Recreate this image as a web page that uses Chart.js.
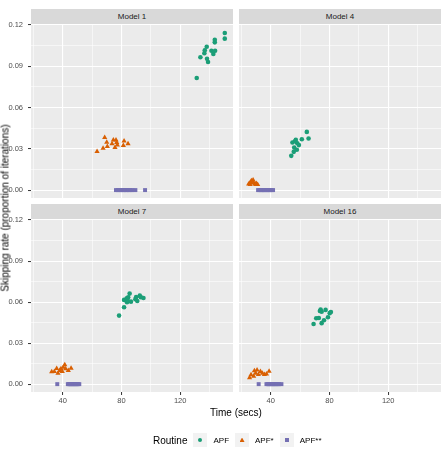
<!DOCTYPE html>
<html>
<head>
<meta charset="utf-8">
<script src="https://cdn.jsdelivr.net/npm/chart.js@4/dist/chart.umd.min.js"></script>
<style>
    html, body { margin: 0; padding: 0; background: #FFFFFF; }
    #figure { position: relative; width: 442px; height: 450px; overflow: hidden; font-family: "Liberation Sans", Arial, sans-serif; }
    canvas { position: absolute; }
    .strip { position: absolute; height: 15px; line-height: 15px; background: #D9D9D9; color: #1A1A1A; font-size: 8px; text-align: center; }
    .axis-title { position: absolute; font-size: 10px; color: #000000; white-space: nowrap; }
    #legend { position: absolute; left: 153px; top: 432px; height: 16px; display: flex; align-items: center; font-size: 8px; color: #000000; }
    #legend .title { font-size: 10px; margin-right: 6px; }
    #legend .key { width: 14px; height: 14px; background: #F2F2F2; position: relative; margin-right: 6px; }
    #legend .label { margin-right: 6px; }
    .shape { position: absolute; }
</style>
</head>
<body>
<div id="figure"></div>
<script>
// Facet titles and legend entries
const panelTitles = ['Model 1', 'Model 4', 'Model 7', 'Model 16'];
const routines = ['APF', 'APF*', 'APF**'];
const routineColors = ['#1B9E77', '#D95F02', '#7570B3'];
const routineShapes = ['circle', 'triangle', 'rect'];

// Axis ticks (every other one is a minor grid line)
const xTicks = [20, 40, 60, 80, 100, 120, 140];
const yTicks = [0, 0.015, 0.03, 0.045, 0.06, 0.075, 0.09, 0.105, 0.12];

// [time (secs), skipping rate]
const model1Apf = [[131.3, 0.0815], [133.8, 0.0966], [136.5, 0.0995], [136.8, 0.1016], [138.1, 0.1042], [138.3, 0.0955], [139.0, 0.0931], [141.3, 0.1013], [142.6, 0.0990], [143.8, 0.1013], [143.6, 0.1074], [143.6, 0.1093], [150.4, 0.1142], [150.4, 0.1101]];
const model1ApfStar = [[63.4, 0.0280], [67.5, 0.0305], [68.6, 0.0382], [70.4, 0.0317], [70.0, 0.0348], [73.6, 0.0336], [74.5, 0.0365], [75.6, 0.0309], [76.3, 0.0365], [76.8, 0.0346], [77.2, 0.0327], [81.3, 0.0324], [81.8, 0.0356], [84.5, 0.0336]];
const model1ApfStar2 = [[76.3, 0], [77.6, 0], [78.8, 0], [80.0, 0], [81.0, 0], [82.0, 0], [83.0, 0], [84.0, 0], [85.0, 0], [86.2, 0], [87.5, 0], [89.5, 0], [96.1, 0]];

const model4Apf = [[54.0, 0.0249], [55.7, 0.0278], [56.0, 0.0309], [54.8, 0.0346], [57.1, 0.0365], [57.8, 0.0293], [58.1, 0.0341], [59.2, 0.0327], [61.2, 0.0370], [64.6, 0.0423], [65.8, 0.0375], [56.5, 0.0355]];
const model4ApfStar = [[25.0, 0.0044], [26.1, 0.0055], [26.8, 0.0068], [27.5, 0.0058], [28.4, 0.0051], [29.3, 0.0046], [30.2, 0.0048], [31.1, 0.0041], [28.0, 0.0073], [26.0, 0.0040], [27.2, 0.0062], [29.8, 0.0040]];
const model4ApfStar2 = [[31.4, 0], [32.3, 0], [33.2, 0], [34.0, 0], [34.8, 0], [35.6, 0], [36.4, 0], [37.2, 0], [38.0, 0], [38.8, 0], [39.7, 0], [40.6, 0], [41.6, 0]];

const model7Apf = [[78.4, 0.0501], [81.8, 0.0562], [81.8, 0.0616], [83.6, 0.0628], [83.8, 0.0599], [84.6, 0.0635], [84.2, 0.0615], [85.6, 0.0662], [86.5, 0.0603], [89.5, 0.0621], [90.0, 0.0636], [90.8, 0.0608], [92.5, 0.0647], [93.2, 0.0636], [95.0, 0.0630]];
const model7ApfStar = [[32.5, 0.0090], [34.3, 0.0092], [35.9, 0.0114], [36.8, 0.0080], [38.0, 0.0099], [38.8, 0.0112], [39.7, 0.0092], [40.4, 0.0124], [41.4, 0.0141], [42.0, 0.0112], [43.8, 0.0099], [45.7, 0.0117]];
const model7ApfStar2 = [[36.3, 0], [43.5, 0], [44.2, 0], [44.9, 0], [45.6, 0], [46.3, 0], [47.0, 0], [47.6, 0], [48.3, 0], [49.0, 0], [49.7, 0], [50.5, 0], [51.3, 0]];

const model16Apf = [[69.2, 0.0440], [71.0, 0.0482], [72.8, 0.0484], [73.5, 0.0535], [74.0, 0.0545], [74.7, 0.0530], [74.7, 0.0446], [76.3, 0.0467], [77.4, 0.0543], [79.0, 0.0489], [80.2, 0.0519], [81.0, 0.0528]];
const model16ApfStar = [[25.6, 0.0046], [26.6, 0.0068], [28.4, 0.0058], [29.7, 0.0080], [30.7, 0.0104], [31.6, 0.0070], [33.0, 0.0092], [34.3, 0.0080], [35.7, 0.0070], [37.1, 0.0075], [38.9, 0.0095], [28.9, 0.0097]];
const model16ApfStar2 = [[31.8, 0], [37.1, 0], [38.0, 0], [38.9, 0], [39.8, 0], [40.6, 0], [41.5, 0], [42.3, 0], [43.1, 0], [44.0, 0], [44.8, 0], [45.7, 0], [47.3, 0]];

const panelData = [
    [model1Apf, model1ApfStar, model1ApfStar2],
    [model4Apf, model4ApfStar, model4ApfStar2],
    [model7Apf, model7ApfStar, model7ApfStar2],
    [model16Apf, model16ApfStar, model16ApfStar2]
];

// Scale limits (ggplot adds 5% on each side)
const X_MIN = 18.4, X_MAX = 156.0;
const Y_MIN = -0.00575, Y_MAX = 0.12075;

// Panel rectangles in page pixels
const panelRects = [
    { x0: 31, y0: 24, x1: 233, y1: 198 },
    { x0: 239, y0: 24, x1: 441, y1: 198 },
    { x0: 31, y0: 219, x1: 233, y1: 392 },
    { x0: 239, y0: 219, x1: 441, y1: 392 }
];

const FONT = '"Liberation Sans", Arial, sans-serif';
const Y_AXIS_W = 31, X_AXIS_H = 16, PAD = 12;
const pointRadius = { circle: 2.3, triangle: 3.0, rect: 2.8 };

const isMajorX = v => v % 40 === 0;
const isMajorY = v => Math.abs(v / 0.03 - Math.round(v / 0.03)) < 1e-6;

// Grey panel background
const panelBackground = {
    id: 'panelBackground',
    beforeDraw(chart) {
        const { ctx, chartArea } = chart;
        ctx.save();
        ctx.fillStyle = '#EBEBEB';
        ctx.fillRect(chartArea.left, chartArea.top, chartArea.right - chartArea.left, chartArea.bottom - chartArea.top);
        ctx.restore();
    }
};

const figure = document.getElementById('figure');

function createPanel(index, showX, showY) {
    const r = panelRects[index];
    const left = showY ? Y_AXIS_W : PAD;
    const bottom = showX ? X_AXIS_H + PAD : PAD;

    const canvas = document.createElement('canvas');
    canvas.width = (r.x1 - r.x0) + left + PAD;
    canvas.height = (r.y1 - r.y0) + PAD + bottom;
    canvas.style.left = (r.x0 - left) + 'px';
    canvas.style.top = (r.y0 - PAD) + 'px';
    figure.appendChild(canvas);

    // Facet strip
    const strip = document.createElement('div');
    strip.className = 'strip';
    strip.style.left = r.x0 + 'px';
    strip.style.top = (r.y0 - 15) + 'px';
    strip.style.width = (r.x1 - r.x0) + 'px';
    strip.textContent = panelTitles[index];
    figure.appendChild(strip);

    const datasets = panelData[index].map((points, i) => ({
        label: routines[i],
        data: points.map(p => ({ x: p[0], y: p[1] })),
        pointStyle: routineShapes[i],
        pointRadius: pointRadius[routineShapes[i]],
        backgroundColor: routineColors[i],
        borderColor: routineColors[i],
        borderWidth: 0
    }));

    new Chart(canvas.getContext('2d'), {
        type: 'scatter',
        data: { datasets: datasets },
        options: {
            responsive: false,
            animation: false,
            devicePixelRatio: 1,
            layout: { padding: { left: showY ? 0 : PAD, top: PAD, right: PAD, bottom: PAD } },
            plugins: { legend: { display: false }, tooltip: { enabled: false } },
            scales: {
                x: {
                    type: 'linear',
                    min: X_MIN,
                    max: X_MAX,
                    afterBuildTicks: s => { s.ticks = xTicks.map(v => ({ value: v })); },
                    afterFit: s => { s.height = showX ? X_AXIS_H : 0; },
                    border: { display: false },
                    grid: {
                        color: '#FFFFFF',
                        lineWidth: c => isMajorX(c.tick.value) ? 1.1 : 0.55,
                        drawTicks: showX,
                        tickLength: 3,
                        tickWidth: 1,
                        tickColor: c => isMajorX(c.tick.value) ? '#333333' : 'rgba(0,0,0,0)'
                    },
                    ticks: {
                        display: showX,
                        autoSkip: false,
                        maxRotation: 0,
                        padding: 1,
                        color: '#4D4D4D',
                        font: { family: FONT, size: 7.5 },
                        callback: v => isMajorX(v) ? String(v) : ''
                    }
                },
                y: {
                    type: 'linear',
                    min: Y_MIN,
                    max: Y_MAX,
                    afterBuildTicks: s => { s.ticks = yTicks.map(v => ({ value: v })); },
                    afterFit: s => { s.width = showY ? Y_AXIS_W : 0; },
                    border: { display: false },
                    grid: {
                        color: '#FFFFFF',
                        lineWidth: c => isMajorY(c.tick.value) ? 1.1 : 0.55,
                        drawTicks: showY,
                        tickLength: 3,
                        tickWidth: 1,
                        tickColor: c => isMajorY(c.tick.value) ? '#333333' : 'rgba(0,0,0,0)'
                    },
                    ticks: {
                        display: showY,
                        autoSkip: false,
                        padding: 5,
                        color: '#4D4D4D',
                        font: { family: FONT, size: 7.5 },
                        callback: v => isMajorY(v) ? v.toFixed(2) : ''
                    }
                }
            }
        },
        plugins: [panelBackground]
    });
}

createPanel(0, false, true);
createPanel(1, false, false);
createPanel(2, true, true);
createPanel(3, true, false);

// Axis titles
const xTitle = document.createElement('div');
xTitle.className = 'axis-title';
xTitle.textContent = 'Time (secs)';
xTitle.style.left = '236px';
xTitle.style.top = '412px';
xTitle.style.transform = 'translate(-50%, -50%)';
figure.appendChild(xTitle);

const yTitle = document.createElement('div');
yTitle.className = 'axis-title';
yTitle.textContent = 'Skipping rate (proportion of iterations)';
yTitle.style.left = '5px';
yTitle.style.top = '208px';
yTitle.style.transform = 'translate(-50%, -50%) rotate(-90deg)';
figure.appendChild(yTitle);

// Legend
const legend = document.createElement('div');
legend.id = 'legend';
legend.innerHTML = '<span class="title">Routine</span>';
routines.forEach((name, i) => {
    const key = document.createElement('span');
    key.className = 'key';
    const shape = document.createElement('span');
    shape.className = 'shape';
    if (routineShapes[i] === 'circle') {
        Object.assign(shape.style, { left: '5px', top: '5px', width: '4px', height: '4px', borderRadius: '50%', background: routineColors[i] });
    } else if (routineShapes[i] === 'triangle') {
        Object.assign(shape.style, { left: '4.5px', top: '4.5px', width: '5px', height: '4.5px', background: routineColors[i], clipPath: 'polygon(50% 0, 100% 100%, 0 100%)' });
    } else {
        Object.assign(shape.style, { left: '5px', top: '5px', width: '4px', height: '4px', background: routineColors[i] });
    }
    key.appendChild(shape);
    legend.appendChild(key);
    const label = document.createElement('span');
    label.className = 'label';
    label.textContent = name;
    legend.appendChild(label);
});
figure.appendChild(legend);
</script>
</body>
</html>
